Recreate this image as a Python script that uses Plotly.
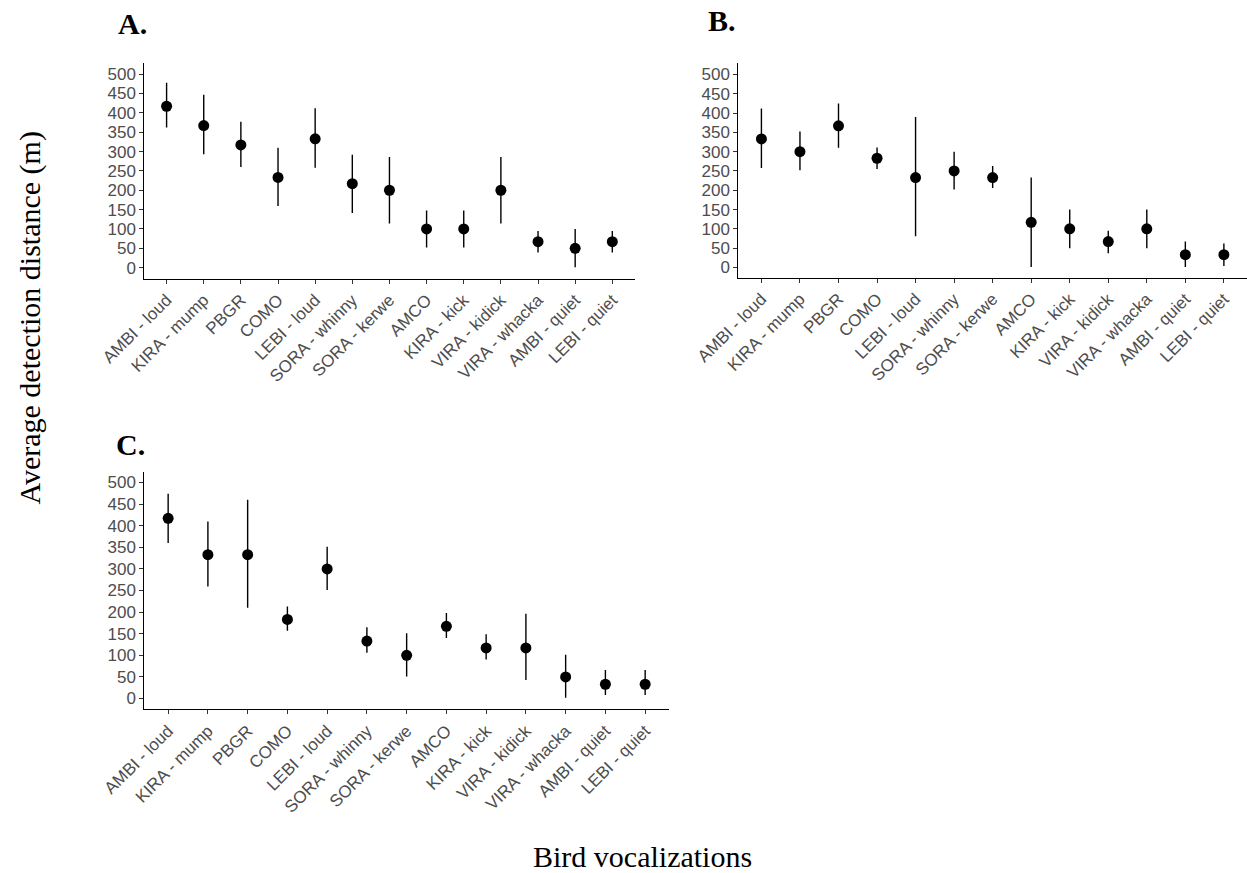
import plotly.graph_objects as go

W, H = 1247, 873

categories = ["AMBI - loud", "KIRA - mump", "PBGR", "COMO", "LEBI - loud",
              "SORA - whinny", "SORA - kerwe", "AMCO", "KIRA - kick",
              "VIRA - kidick", "VIRA - whacka", "AMBI - quiet", "LEBI - quiet"]

# Panel A
a_mean = [417, 367, 317, 233, 333, 217, 200, 100, 100, 200, 67, 50, 67]
a_upper = [478, 447, 377, 310, 412, 292, 286, 148, 148, 286, 95, 100, 95]
a_lower = [362, 293, 260, 159, 258, 141, 114, 52, 52, 114, 39, 1, 39]

# Panel B
b_mean = [333, 300, 367, 283, 233, 250, 233, 117, 100, 67, 100, 33, 33]
b_upper = [412, 352, 425, 311, 390, 300, 263, 233, 150, 95, 150, 67, 62]
b_lower = [258, 252, 310, 255, 81, 202, 206, 1, 50, 37, 50, 1, 4]

# Panel C
c_mean = [417, 333, 333, 183, 300, 133, 100, 167, 117, 117, 50, 33, 33]
c_upper = [474, 410, 460, 213, 351, 165, 151, 198, 149, 196, 101, 66, 66]
c_lower = [360, 259, 210, 157, 251, 106, 51, 140, 90, 43, 2, 8, 8]

y_ticks = [0, 50, 100, 150, 200, 250, 300, 350, 400, 450, 500]
panel_labels = ["A.", "B.", "C."]

# panel boxes in pixels: (left, right, top, bottom), y range
panels = [
    (144.3, 634.6, 63.3, 278.5, [-28, 528], a_mean, a_upper, a_lower),
    (738.3, 1247.0, 63.3, 277.5, [-26, 529], b_mean, b_upper, b_lower),
    (144.3, 669.0, 471.7, 709.3, [-25, 525], c_mean, c_upper, c_lower),
]

fig = go.Figure()
tick_font = dict(family="Liberation Sans, Arial, sans-serif", size=17, color="#4D4D4D")

for i, (l, r, t, b, yr, mean, up, lo) in enumerate(panels):
    n = "" if i == 0 else str(i + 1)
    fig.add_trace(go.Scatter(
        x=categories, y=mean, mode="markers",
        marker=dict(color="black", size=11),
        error_y=dict(type="data", symmetric=False,
                     array=[u - m for u, m in zip(up, mean)],
                     arrayminus=[m - d for m, d in zip(mean, lo)],
                     color="black", thickness=1.4, width=0),
        xaxis="x" + n, yaxis="y" + n, showlegend=False, cliponaxis=False,
    ))
    fig.update_layout({
        "xaxis" + n: dict(
            domain=[l / W, r / W], anchor="y" + n, automargin=False,
            type="category", categoryorder="array", categoryarray=categories,
            range=[-0.6, 12.6], tickangle=-45, tickfont=tick_font,
            showline=True, linecolor="black", linewidth=1,
            ticks="outside", ticklen=4, tickcolor="#333333", tickwidth=1,
            showgrid=False, zeroline=False, fixedrange=True,
        ),
        "yaxis" + n: dict(
            domain=[1 - b / H, 1 - t / H], anchor="x" + n, automargin=False,
            range=yr, tickvals=y_ticks, tickfont=tick_font,
            showline=True, linecolor="black", linewidth=1,
            ticks="outside", ticklen=4, tickcolor="#333333", tickwidth=1,
            showgrid=False, zeroline=False, fixedrange=True,
        ),
    })

title_font = dict(family="Liberation Serif, Times New Roman, serif", size=30, color="black")
label_pos = [(116, 23), (706, 20), (114, 445)]
annotations = []
for txt, (px, py) in zip(panel_labels, label_pos):
    annotations.append(dict(
        text="<b>" + txt + "</b>", x=px / W, y=1 - py / H, xref="paper", yref="paper",
        xanchor="left", yanchor="middle", showarrow=False, font=title_font,
    ))
annotations.append(dict(
    text="Average detection distance (m)", x=29 / W, y=1 - 318.5 / H,
    xref="paper", yref="paper", xanchor="center", yanchor="middle",
    textangle=-90, showarrow=False, font=title_font,
))
annotations.append(dict(
    text="Bird vocalizations", x=642 / W, y=1 - 856 / H,
    xref="paper", yref="paper", xanchor="center", yanchor="middle",
    showarrow=False, font=title_font,
))

fig.update_layout(
    width=W, height=H,
    margin=dict(l=0, r=0, t=0, b=0, autoexpand=False),
    paper_bgcolor="white", plot_bgcolor="white",
    annotations=annotations,
)

fig.write_html("out.html")
